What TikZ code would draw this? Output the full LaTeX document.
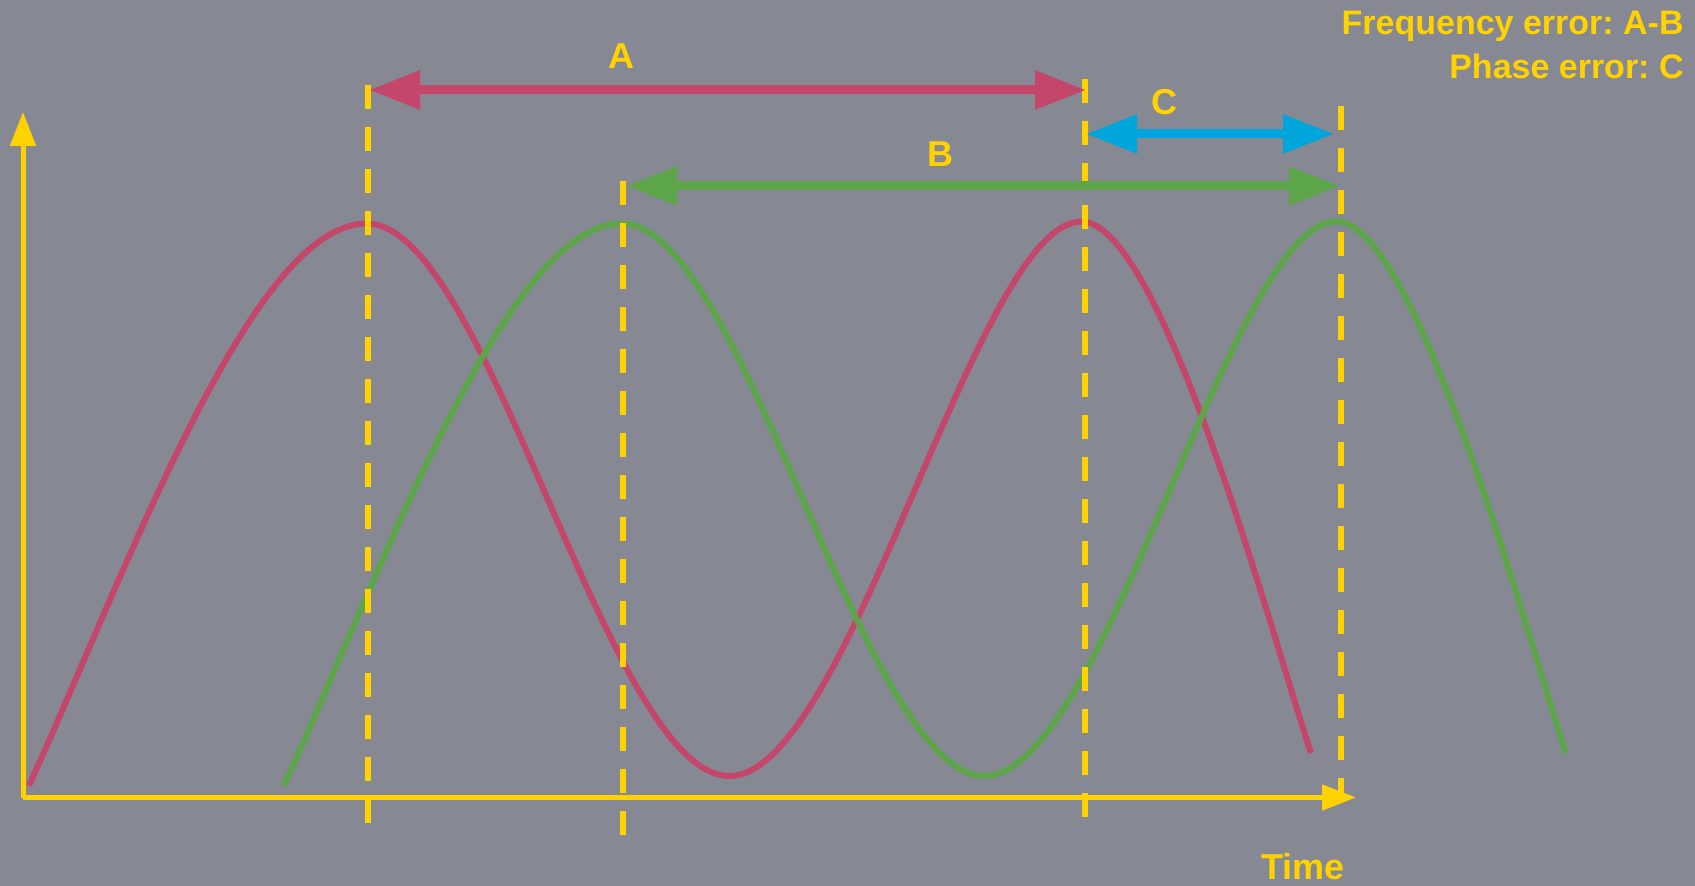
\documentclass[tikz,border=0pt]{standalone}
\usepackage{fontspec}
\setmainfont{Liberation Sans}
\usetikzlibrary{arrows.meta}
\definecolor{bg}{RGB}{134,136,148}
\definecolor{ylw}{RGB}{255,210,0}
\definecolor{redc}{RGB}{196,70,107}
\definecolor{grnc}{RGB}{92,165,72}
\definecolor{bluc}{RGB}{0,165,220}
\tikzset{
  axisline/.style={ylw, line width=2.5pt, -{Triangle[length=17pt,width=12.5pt]}},
  guide/.style={ylw, line width=3pt, dash pattern=on 12pt off 9pt},
  wave/.style={line width=3pt, line join=round},
  span/.style={line width=4.5pt, {Triangle[length=25.5pt,width=18.5pt]}-{Triangle[length=25.5pt,width=18.5pt]}},
  lbl/.style={ylw, inner sep=0pt, anchor=base, font=\fontsize{18}{21}\selectfont\bfseries\frenchspacing},
  note/.style={ylw, inner sep=0pt, anchor=base east, font=\fontsize{17}{20}\selectfont\bfseries\frenchspacing}
}
\begin{document}
\begin{tikzpicture}[x=0.5pt,y=-0.5pt]
\useasboundingbox (0,0) rectangle (1695,886);
\fill[bg] (0,0) rectangle (1695,886);

% waves
\def\wavepath{(29,785.5) .. controls (129,565.5) and (251.7,223.5) .. (366.7,223.5)
  .. controls (488.2,223.5) and (607.8,776) .. (729.3,776)
  .. controls (850,776) and (975.8,221.5) .. (1081.4,221.5)
  .. controls (1161.4,221.5) and (1271,633) .. (1311,753)}
\draw[wave, redc] \wavepath;
\begin{scope}[xshift=127.5pt]
\draw[wave, grnc] \wavepath;
\end{scope}

% guide lines
\coordinate (g1t) at (367.5,85);  \coordinate (g1b) at (367.5,823);
\coordinate (g2t) at (623,181);   \coordinate (g2b) at (623,835);
\coordinate (g3t) at (1085,79);   \coordinate (g3b) at (1085,817);
\coordinate (g4t) at (1341,106);  \coordinate (g4b) at (1341,797);
\draw[guide] (g1t) -- (g1b);
\draw[guide] (g2t) -- (g2b);
\draw[guide] (g3t) -- (g3b);
\draw[guide] (g4t) -- (g4b);

% axes
\coordinate (o) at (23,797.5);
\coordinate (ytip) at (23,112);
\coordinate (xtip) at (1356,797.5);
\draw[axisline] (o) -- (ytip);
\draw[axisline] (o) -- (xtip);

% spans
\coordinate (aL) at (369,90);  \coordinate (aR) at (1086,90);
\coordinate (bL) at (626,186); \coordinate (bR) at (1340,186);
\coordinate (cL) at (1086,134); \coordinate (cR) at (1334,134);
\draw[span, redc] (aL) -- (aR);
\draw[span, grnc] (bL) -- (bR);
\draw[span, bluc] (cL) -- (cR);

% labels
\node[lbl] (la) at (621.5,69) {A};
\node[lbl] (lb) at (940.5,166.5) {B};
\node[lbl] (lc) at (1164,115) {C};
\node[lbl] (lt) at (1303,879) {Time};
\node[note] (n1) at (1684,35) {Frequency error: A-B};
\node[note] (n2) at (1684,79) {Phase error: C};
\end{tikzpicture}
\end{document}
